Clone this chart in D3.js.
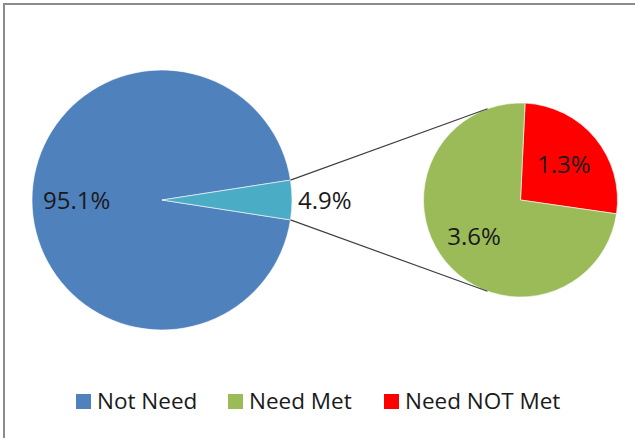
<!DOCTYPE html>
<html>
<head>
<meta charset="utf-8">
<script src="https://cdn.jsdelivr.net/npm/d3@7/dist/d3.min.js"></script>
<style>
  html, body { margin: 0; padding: 0; background: #fff; }
  svg { display: block; }
  text { font-family: "Open Sans", "Noto Sans", sans-serif; fill: #1a1a1a; }
</style>
</head>
<body>
<svg id="chart" width="635" height="438"></svg>
<script>
// Main pie: everyone, split into "Not Need" and the combined need group
const mainLabels = ["Not Need", "Need"];
const mainValues = [95.1, 4.9];
const mainColors = ["#4F81BD", "#4BACC6"];

// Secondary pie: breakdown of the need group
const subLabels = ["Need NOT Met", "Need Met"];
const subValues = [1.3, 3.6];
const subColors = ["#FF0000", "#9BBB59"];

// Legend entries
const legendLabels = ["Not Need", "Need Met", "Need NOT Met"];
const legendColors = ["#4F81BD", "#9BBB59", "#FF0000"];

const W = 635, H = 438;
const svg = d3.select("#chart");

// Chart frame (top and left edges show; the rest runs past the canvas)
svg.append("rect")
  .attr("x", 4).attr("y", 4)
  .attr("width", W + 10).attr("height", H + 10)
  .attr("fill", "#fff")
  .attr("stroke", "#8c8c8c")
  .attr("stroke-width", 2);

const big = { cx: 162, cy: 200, r: 130 };
const small = { cx: 520.5, cy: 200, r: 97 };
const fmt = v => v.toFixed(1) + "%";

// --- Main pie: the need slice is centred on the right (pointing at the secondary pie)
const needShare = mainValues[1] / d3.sum(mainValues) * 2 * Math.PI;
const mainPie = d3.pie().sort(null)
  .startAngle(Math.PI / 2 + needShare / 2)
  .endAngle(Math.PI / 2 + needShare / 2 + 2 * Math.PI);
const mainArcs = mainPie(mainValues);
const mainArc = d3.arc().innerRadius(0).outerRadius(big.r);

const gBig = svg.append("g").attr("transform", `translate(${big.cx},${big.cy})`);
gBig.selectAll("path").data(mainArcs).join("path")
  .attr("d", mainArc)
  .attr("fill", (d, i) => mainColors[i])
  .attr("stroke", "#fff")
  .attr("stroke-width", 0.6);

// --- Secondary pie
const subOffset = 2.7 * Math.PI / 180;
const subPie = d3.pie().sort(null)
  .startAngle(subOffset).endAngle(subOffset + 2 * Math.PI);
const subArcs = subPie(subValues);
const subArc = d3.arc().innerRadius(0).outerRadius(small.r);

const gSmall = svg.append("g").attr("transform", `translate(${small.cx},${small.cy})`);
gSmall.selectAll("path").data(subArcs).join("path")
  .attr("d", subArc)
  .attr("fill", (d, i) => subColors[i])
  .attr("stroke", "#fff")
  .attr("stroke-width", 0.6);

// --- Connector lines: from the need slice's outer corners, tangent to the secondary pie
const needArc = mainArcs[1];
function polar(c, r, a) { return [c.cx + r * Math.sin(a), c.cy - r * Math.cos(a)]; }
const pTop = polar(big, big.r, needArc.startAngle);
const pBot = polar(big, big.r, needArc.endAngle);

function tangentPoint(p, side) {
  const dx = p[0] - small.cx, dy = p[1] - small.cy;
  const d = Math.hypot(dx, dy);
  const base = Math.atan2(dy, dx);
  const off = Math.acos(small.r / d);
  const a = base + side * off;
  return [small.cx + small.r * Math.cos(a), small.cy + small.r * Math.sin(a)];
}
const tTop = tangentPoint(pTop, 1);
const tBot = tangentPoint(pBot, -1);

svg.append("g").selectAll("line")
  .data([[pTop, tTop], [pBot, tBot]]).join("line")
  .attr("x1", d => d[0][0]).attr("y1", d => d[0][1])
  .attr("x2", d => d[1][0]).attr("y2", d => d[1][1])
  .attr("stroke", "#404040")
  .attr("stroke-width", 1.2);

// --- Data labels
const fs = 24;
const dy = 3;
// Not Need: placed near the left edge inside its slice
svg.append("text")
  .attr("x", big.cx - big.r + 11).attr("y", big.cy + dy)
  .attr("dominant-baseline", "middle")
  .attr("font-size", fs)
  .text(fmt(mainValues[0]));
// Need: just outside the main pie
svg.append("text")
  .attr("x", big.cx + big.r + 6).attr("y", big.cy + dy)
  .attr("dominant-baseline", "middle")
  .attr("font-size", fs)
  .text(fmt(mainValues[1]));

// Secondary pie labels, along each slice's bisector
gSmall.selectAll("text").data(subArcs).join("text")
  .attr("transform", (d, i) => {
    const rr = small.r * (i === 0 ? 0.58 : 0.62);
    const c = d3.arc().innerRadius(rr).outerRadius(rr).centroid(d);
    return `translate(${c[0]},${c[1] + (i === 0 ? 2 : 0)})`;
  })
  .attr("text-anchor", "middle")
  .attr("dominant-baseline", "middle")
  .attr("font-size", fs)
  .text(d => fmt(d.data));

// --- Legend
const legendY = 401;
const legendX = [76, 228, 384];
const lg = svg.append("g");
legendLabels.forEach((name, i) => {
  lg.append("rect")
    .attr("x", legendX[i]).attr("y", legendY - 7)
    .attr("width", 15).attr("height", 15)
    .attr("fill", legendColors[i]);
  lg.append("text")
    .attr("x", legendX[i] + 21).attr("y", legendY + 2)
    .attr("dominant-baseline", "middle")
    .attr("font-size", 22.5)
    .text(name);
});
</script>
</body>
</html>
